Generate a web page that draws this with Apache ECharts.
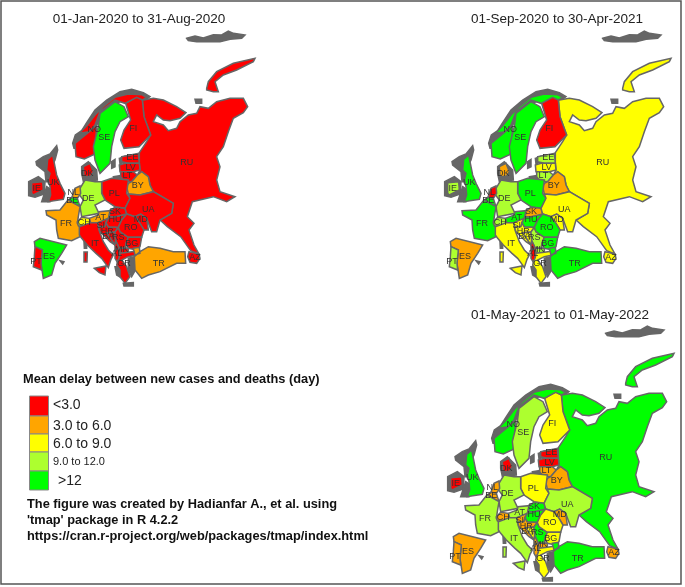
<!DOCTYPE html>
<html><head><meta charset="utf-8">
<style>html,body{margin:0;padding:0;background:#fff}#c{width:685px;height:587px}</style>
<script src="https://cdn.jsdelivr.net/npm/echarts@6/dist/echarts.min.js"></script>
</head><body><div id="c"></div>
<script>
// ---- data: delay class of every country in each period (index into classLabels) ----
const classLabels = ['<3.0','3.0 to 6.0','6.0 to 9.0','9.0 to 12.0','>12'];
const classColors = ['#ff0000','#ffa500','#ffff00','#adff2f','#00ff00'];
const countries = ['RU','FI','NO','SE','EE','LV','LT','BY','PL','DE','DK','UK','IE','NL','BE','FR','CH','AT','SI','HR','BA','RS','ME','HU','SK','UA','MD','RO','BG','MK','AL','GR','IT','ES','PT','TR','AZ'];
const period1 = [0,0,0,4,0,0,0,1,0,3,0,0,0,1,4,1,2,1,0,0,0,0,0,0,0,0,0,0,0,0,0,0,0,4,0,1,0];
const period2 = [2,0,4,4,3,2,3,1,4,3,1,4,3,0,4,4,3,4,2,2,2,3,0,4,1,2,2,4,4,3,0,2,2,1,3,4,2];
const period3 = [4,2,4,3,0,0,1,1,2,3,0,4,0,1,1,3,1,3,1,1,2,4,1,4,4,3,1,2,2,1,1,2,3,1,1,4,1];
const periodTitles = ['01-Jan-2020 to 31-Aug-2020','01-Sep-2020 to 30-Apr-2021','01-May-2021 to 01-May-2022'];
const legendTitle = 'Mean delay between new cases and deaths (day)';
const notes = ['The figure was created by Hadianfar A., et al. using',"'tmap' package in R 4.2.2",'https://cran.r-project.org/web/packages/tmap/index.html'];

// ---- map geometry: simplified outlines, [x, south] in map units ----
const landOnly = {
 sval:[[[560,115],[585,108],[610,114],[640,104],[665,105],[685,93],[700,100],[735,105],[725,115],[690,118],[660,125],[620,125],[590,125],[565,122]]],
 scand:[[[218,430],[226,405],[245,392],[262,365],[285,330],[320,300],[360,275],[395,268],[430,278],[450,290],[430,305],[395,295],[360,305],[320,330],[290,375],[255,405],[232,445],[222,445]]],
 scot:[[[108,485],[130,470],[150,462],[170,437],[173,450],[165,480],[155,500],[150,545],[138,545],[135,515],[110,495]]],
 irel:[[[86,545],[115,530],[135,545],[133,582],[105,592],[86,587]]],
 wales:[[[140,560],[155,570],[150,605],[125,605]]],
 dkb:[[[245,500],[265,485],[290,510],[292,540],[250,544],[245,520]]],
 gotl:[[[335,485],[345,478],[345,500],[335,505]]],
 saar:[[[358,475],[375,468],[375,485],[360,492]]],
 kali:[[[340,530],[370,525],[380,542],[340,542]]],
 cors:[[[252,725],[260,722],[260,745],[253,745]]],
 crete:[[[370,850],[400,848],[400,858],[372,858]]],
 aeg:[[[385,775],[405,770],[412,800],[395,830],[385,810]]],
 ion:[[[345,800],[360,800],[362,832],[350,825]]],
 bal:[[[180,782],[192,785],[188,792]]],
 kolg:[[[585,298],[605,298],[605,310],[588,310]]]
};
const outlines = {
 RU:[[[430,300],[460,295],[490,300],[530,320],[558,338],[540,355],[510,362],[490,360],[470,345],[460,365],[490,375],[505,392],[530,385],[540,365],[565,345],[590,340],[600,320],[625,325],[650,305],[690,295],[730,295],[743,320],[730,338],[700,355],[685,395],[670,440],[650,470],[660,500],[650,540],[660,575],[705,590],[680,605],[640,590],[577,605],[562,650],[582,670],[567,690],[582,735],[597,762],[572,752],[542,710],[502,680],[480,660],[515,640],[520,610],[460,575],[450,555],[445,530],[425,515],[412,525],[420,510],[418,490],[418,458],[440,425],[452,405],[432,350],[427,300]],
     [[620,265],[625,245],[650,215],[700,190],[765,175],[760,185],[710,210],[670,225],[645,245],[655,275],[640,275],[620,270]]],
 FI:[[[410,290],[427,300],[432,350],[452,405],[417,440],[372,445],[362,420],[372,390],[392,360],[377,310]]],
 NO:[[[268,395],[285,375],[300,335],[345,300],[375,310],[410,292],[427,300],[440,293],[425,284],[385,282],[345,292],[310,320],[285,345],[262,375],[238,400]],
     [[225,430],[268,395],[290,375],[288,420],[285,462],[253,477],[228,470]]],
 SE:[[[345,305],[372,320],[385,350],[360,365],[345,395],[335,440],[330,490],[300,520],[285,480],[280,440],[295,380],[300,340]]],
 EE:[[[365,470],[415,460],[418,490],[385,490],[365,485]]],
 LV:[[[358,495],[375,490],[418,490],[420,510],[400,515],[360,515]]],
 LT:[[[362,515],[400,515],[412,525],[395,545],[372,543],[362,530]]],
 BY:[[[412,525],[425,515],[445,530],[450,555],[460,575],[420,585],[385,582],[380,560],[385,550],[395,545]]],
 PL:[[[305,545],[335,535],[385,540],[380,580],[390,595],[375,625],[345,620],[315,600],[305,580]]],
 DE:[[[255,540],[285,545],[305,545],[305,580],[315,600],[285,615],[297,640],[245,650],[240,620],[250,600],[235,580],[240,565]]],
 DK:[[[250,500],[270,490],[280,515],[272,528],[252,530]]],
 UK:[[[143,478],[158,465],[165,500],[170,525],[180,550],[195,580],[190,598],[145,605],[152,585],[150,560],[145,540],[150,520],[140,510]]],
 IE:[[[95,548],[128,545],[130,570],[100,585],[95,580]]],
 NL:[[[216,592],[225,565],[240,558],[242,580],[232,595]]],
 BE:[[[204,600],[216,592],[232,595],[240,620],[225,612]]],
 FR:[[[138,632],[180,630],[204,600],[240,620],[235,650],[232,670],[245,690],[240,710],[215,722],[175,715],[170,690],[168,660],[140,645]]],
 CH:[[[232,665],[245,652],[268,655],[272,668],[250,678],[235,677]]],
 AT:[[[268,655],[295,645],[297,635],[330,632],[325,655],[300,668],[272,668]]],
 IT:[[[238,680],[250,676],[272,668],[293,668],[297,690],[310,725],[325,750],[340,765],[333,778],[325,803],[316,790],[305,775],[288,760],[262,735],[245,715],[238,705]],
     [[283,805],[318,798],[315,825],[298,818]],
     [[252,756],[262,756],[261,786],[252,786]]],
 SI:[[[293,668],[325,655],[318,668],[315,680],[295,682]]],
 HR:[[[295,682],[315,680],[318,668],[325,680],[355,682],[345,696],[320,698],[345,735],[330,725],[300,695]]],
 BA:[[[320,698],[345,696],[347,720],[345,735]]],
 RS:[[[355,682],[360,695],[385,712],[378,730],[375,745],[358,745],[347,722],[345,696]]],
 ME:[[[345,735],[347,722],[358,745],[345,750]]],
 HU:[[[328,650],[345,650],[380,642],[365,660],[355,682],[325,680],[318,668],[325,655]]],
 SK:[[[330,632],[345,622],[375,625],[380,642],[345,650],[328,650]]],
 UA:[[[375,625],[390,595],[385,582],[420,585],[460,575],[520,610],[515,640],[480,660],[470,695],[455,695],[440,655],[422,642],[405,650],[380,642]]],
 MD:[[[405,650],[422,642],[440,655],[445,690],[432,690],[420,670]]],
 RO:[[[380,642],[405,650],[420,670],[432,690],[425,712],[385,712],[360,695],[355,682],[365,660]]],
 BG:[[[385,712],[425,712],[420,740],[410,750],[385,745],[378,730]]],
 MK:[[[358,745],[375,745],[385,745],[385,757],[360,760]]],
 AL:[[[345,750],[358,745],[360,760],[358,772],[352,787],[345,775]]],
 GR:[[[352,787],[358,772],[360,760],[385,757],[415,752],[410,765],[385,770],[365,780],[380,800],[390,830],[375,850],[360,830],[360,810],[350,795]]],
 ES:[[[103,725],[120,715],[200,735],[185,760],[165,790],[155,825],[130,835],[123,790],[127,750],[105,740]]],
 PT:[[[105,740],[127,750],[123,790],[125,810],[100,800],[103,770]]],
 TR:[[[403,770],[420,755],[445,740],[480,745],[520,755],[555,755],[557,790],[530,790],[480,815],[445,825],[425,835],[405,810]],
     [[400,745],[418,742],[420,760],[405,765]]],
 AZ:[[[567,755],[597,762],[600,775],[590,790],[570,787],[563,770]]]
};
const labelSpots = {RU:[560,487],FI:[400,385],SE:[313,413],NO:[283,388],EE:[397,473],LV:[392,503],LT:[382,528],BY:[413,558],PL:[343,582],DE:[265,597],DK:[262,520],UK:[160,548],IE:[110,565],NL:[220,577],BE:[217,603],FR:[198,672],CH:[253,668],AT:[302,652],SI:[302,677],HR:[322,695],BA:[325,710],RS:[355,712],ME:[350,740],HU:[345,660],SK:[345,635],UA:[445,628],MD:[422,660],RO:[392,683],BG:[395,732],MK:[365,750],AL:[350,762],GR:[372,792],IT:[285,732],ES:[147,770],PT:[108,785],TR:[476,790],AZ:[585,772]};
const unlabelled = ['ME'];

const features = [];
Object.keys(landOnly).forEach(k => features.push({type:'Feature',properties:{name:k},geometry:{type:'MultiPolygon',coordinates:landOnly[k].map(r=>[r.map(p=>[p[0],-p[1]])])}}));
countries.forEach(k => features.push({type:'Feature',properties:{name:k,cp:[labelSpots[k][0],-labelSpots[k][1]]},geometry:{type:'MultiPolygon',coordinates:outlines[k].map(r=>[r.map(p=>[p[0],-p[1]])])}}));
['europe0','europe1','europe2'].forEach(n=>echarts.registerMap(n,{type:'FeatureCollection',features}));

const chart = echarts.init(document.getElementById('c'),null,{renderer:'canvas'});
const GREY = '#666666';
const FONT = '"Liberation Sans", Arial, sans-serif';
const panels = [{left:0,top:0,vals:period1,tx:139,ty:19},{left:416,top:0,vals:period2,tx:557,ty:19},{left:419,top:295,vals:period3,tx:560,ty:315}];

const series = panels.map((p,pi) => ({
  type:'map', map:'europe'+pi, silent:true, roam:false, aspectScale:1,
  boundingCoords:[[0,0],[810,-870]], left:p.left, top:p.top, width:270, height:290,
  itemStyle:{areaColor:GREY,borderColor:GREY,borderWidth:1.5},
  label:{show:true,fontFamily:FONT,fontSize:9,color:'#333',formatter:o=>(countries.includes(o.name)&&!unlabelled.includes(o.name))?o.name:''},
  data:countries.map((c,i)=>({name:c,value:p.vals[i],itemStyle:{areaColor:classColors[p.vals[i]]}}))
}));

const graphic = [{type:'rect',shape:{x:1,y:1,width:680,height:583},style:{fill:'none',stroke:'#555',lineWidth:1.5},z:100}];
panels.forEach((p,i)=>graphic.push({type:'text',x:p.tx,y:p.ty,style:{text:periodTitles[i],font:'13.5px '+FONT,fill:'#222',textAlign:'center',textVerticalAlign:'middle'}}));
graphic.push({type:'text',x:23,y:379,style:{text:legendTitle,font:'bold 12.8px '+FONT,fill:'#111',textVerticalAlign:'middle'}});
const swY=[396,416,434,452,471,490], txtX=[53,53,53,53,58], txtY=[405,426,444,462,481], txtS=[14,14,14,11,14];
classLabels.forEach((l,i)=>{
  graphic.push({type:'rect',shape:{x:29.5,y:swY[i],width:19,height:swY[i+1]-swY[i]},style:{fill:classColors[i],stroke:'#888',lineWidth:1}});
  graphic.push({type:'text',x:txtX[i],y:txtY[i],style:{text:l,font:txtS[i]+'px '+FONT,fill:'#222',textVerticalAlign:'middle'}});
});
notes.forEach((t,i)=>graphic.push({type:'text',x:27,y:504+i*16,style:{text:t,font:'bold 12.8px '+FONT,fill:'#111',textVerticalAlign:'middle'}}));

chart.setOption({animation:false,backgroundColor:'#fff',series,graphic});
</script></body></html>
